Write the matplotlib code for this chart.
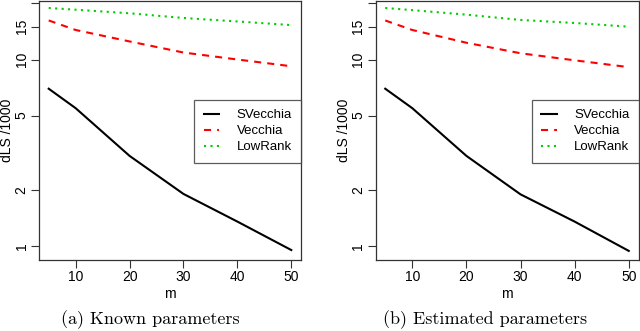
import matplotlib
matplotlib.use("Agg")
import matplotlib.pyplot as plt
from matplotlib.ticker import FixedLocator, NullLocator

m = [5, 10, 20, 30, 40, 50]

# (a) known parameters
svecchia_a = [6.97, 5.48, 3.04, 1.90, 1.35, 0.95]
vecchia_a = [16.2, 14.4, 12.5, 10.9, 10.0, 9.2]
lowrank_a = [18.9, 18.5, 17.7, 16.7, 16.0, 15.3]

# (b) estimated parameters
svecchia_b = [6.97, 5.48, 3.04, 1.89, 1.35, 0.94]
vecchia_b = [16.2, 14.4, 12.3, 10.8, 9.9, 9.1]
lowrank_b = [18.9, 18.4, 17.4, 16.3, 15.7, 15.0]

yticks = [1, 2, 5, 10, 15, 20]
ytick_labels = ["1", "2", "5", "10", "15", ""]
xticks = [10, 20, 30, 40, 50]
captions = ["(a) Known parameters", "(b) Estimated parameters"]

W, H = 640, 331
fig = plt.figure(figsize=(W / 100, H / 100), dpi=100)
plt.rcParams['font.family'] = ['Liberation Sans', 'DejaVu Sans']

# axes boxes in pixels: left, right, top, bottom
boxes = [(39, 301, 1, 260), (375.5, 638.5, 1, 260)]
series = [(svecchia_a, vecchia_a, lowrank_a), (svecchia_b, vecchia_b, lowrank_b)]
ylabel_x = [7, 344]
cap_x = [150, 485]

for i in range(2):
    l, r, t, b = boxes[i]
    ax = fig.add_axes([l / W, 1 - b / H, (r - l) / W, (b - t) / H])
    sv, ve, lr = series[i]
    ax.plot(m, sv, color='black', lw=1.5, label='SVecchia')
    line_v, = ax.plot(m, ve, color='#ff0000', lw=1.5, label='Vecchia')
    line_v.set_dashes([3.4, 2.9])
    line_l, = ax.plot(m, lr, color='#00cd00', lw=1.5, label='LowRank')
    line_l.set_dashes([1, 2.1])
    ax.set_yscale('log')
    ax.set_ylim(0.840, 20.6)
    ax.set_xlim(3.2, 51.8)
    ax.yaxis.set_major_locator(FixedLocator(yticks))
    ax.yaxis.set_minor_locator(NullLocator())
    ax.set_yticklabels(ytick_labels, rotation=90, va='center')
    ax.set_xticks(xticks)
    ax.tick_params(direction='out', length=5.5, width=0.8, color='#333333', labelsize=10, pad=2)
    for s in ax.spines.values():
        s.set_color('#333333')
        s.set_linewidth(0.9)
    ax.set_xlabel('m', fontsize=10, labelpad=1.5)
    fig.text(ylabel_x[i] / W, 1 - 130 / H, 'dLS /1000', rotation=90, fontsize=10,
             ha='center', va='center')
    leg = ax.legend(loc='upper right', bbox_to_anchor=(1.0, 1 - 99 / (b - t)),
                    fontsize=9.5, frameon=True, fancybox=False, handlelength=1.2,
                    handletextpad=1.3, borderpad=0.7, labelspacing=0.28,
                    borderaxespad=0)
    leg.get_frame().set_edgecolor('#333333')
    leg.get_frame().set_linewidth(0.9)
    fig.text(cap_x[i] / W, 1 - 320 / H, captions[i], fontsize=13,
             family='cmr10', ha='center', va='center')

fig.savefig('out.png', dpi=100)
